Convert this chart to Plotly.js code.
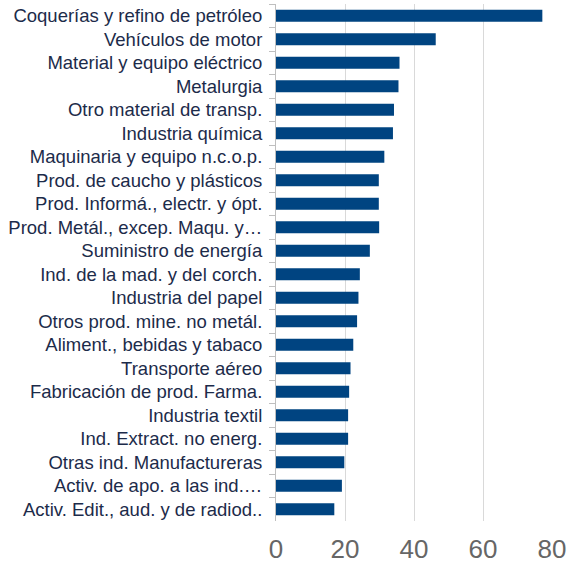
<!DOCTYPE html>
<html>
<head>
<meta charset="utf-8">
<script src="https://cdn.plot.ly/plotly-3.0.1.min.js"></script>
<style>
  html, body { margin: 0; padding: 0; background: #fff; }
  #chart { width: 567px; height: 564px; }
</style>
</head>
<body>
<div id="chart"></div>
<script>
// Sectores (de arriba a abajo) y valores
const sectores = [
  'Coquerías y refino de petróleo',
  'Vehículos de motor',
  'Material y equipo eléctrico',
  'Metalurgia',
  'Otro material de transp.',
  'Industria química',
  'Maquinaria y equipo n.c.o.p.',
  'Prod. de caucho y plásticos',
  'Prod. Informá., electr. y ópt.',
  'Prod. Metál., excep. Maqu. y…',
  'Suministro de energía',
  'Ind. de la mad. y del corch.',
  'Industria del papel',
  'Otros prod. mine. no metál.',
  'Aliment., bebidas y tabaco',
  'Transporte aéreo',
  'Fabricación de prod. Farma.',
  'Industria textil',
  'Ind. Extract. no energ.',
  'Otras ind. Manufactureras',
  'Activ. de apo. a las ind.…',
  'Activ. Edit., aud. y de radiod..'
];
const valores = [77.2, 46.3, 35.8, 35.5, 34.2, 33.9, 31.4, 29.8, 29.8, 29.9, 27.2,
  24.3, 23.9, 23.5, 22.4, 21.6, 21.2, 20.9, 20.9, 19.8, 19.1, 16.9];
const ticksX = [0, 20, 40, 60, 80];

Plotly.newPlot('chart', [{
  type: 'bar',
  orientation: 'h',
  x: valores,
  y: sectores,
  marker: { color: '#004481' },
  hoverinfo: 'x+y'
}], {
  width: 567,
  height: 564,
  margin: { l: 276, r: 15, t: 4, b: 43 },
  paper_bgcolor: '#ffffff',
  plot_bgcolor: '#ffffff',
  bargap: 0.48,
  showlegend: false,
  font: { family: 'Liberation Sans, Arial, sans-serif' },
  xaxis: {
    range: [0, 80],
    tickvals: ticksX,
    showgrid: true,
    gridcolor: '#d9d9d9',
    gridwidth: 1,
    zeroline: false,
    showline: false,
    ticks: '',
    ticklabelstandoff: 10,
    tickfont: { size: 26, color: '#666666' }
  },
  yaxis: {
    autorange: 'reversed',
    type: 'category',
    showline: true,
    linecolor: '#bfbfbf',
    linewidth: 1,
    ticks: 'outside',
    tickson: 'boundaries',
    ticklen: 6,
    tickcolor: '#bfbfbf',
    showgrid: false,
    tickfont: { size: 18.5, color: '#1c2b4a' },
    ticklabelstandoff: 9
  }
}, { displayModeBar: false, staticPlot: true });
</script>
</body>
</html>
